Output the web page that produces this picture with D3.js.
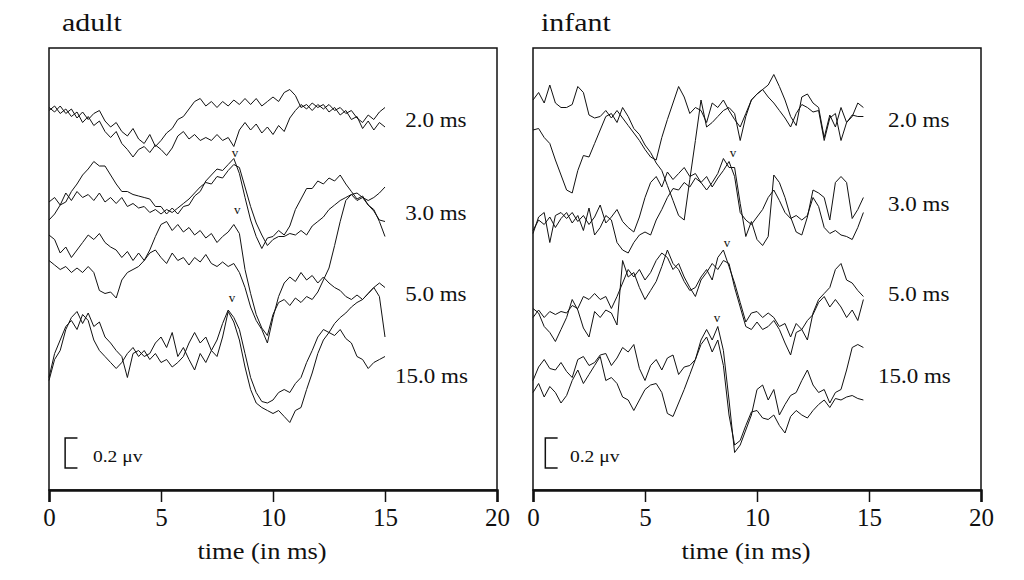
<!DOCTYPE html>
<html><head><meta charset="utf-8">
<script src="https://cdn.jsdelivr.net/npm/d3@7"></script>
<style>
body{margin:0;background:#fff}
svg{display:block}
text{font-family:"Liberation Serif","Times New Roman",serif;fill:#111}
</style>
</head><body>
<svg id="chart" width="1024" height="580"></svg>
<script>
// ---------- data (time in ms, amplitude in µV, sampled every 0.25 ms) ----------
const sampleStep = 0.25;
const xTicks = [0, 5, 10, 15, 20];
const panelTitles = ["adult", "infant"];
const xAxisLabel = "time (in ms)";
const rateLabels = ["2.0 ms", "3.0 ms", "5.0 ms", "15.0 ms"];
const scaleBarLabel = "0.2 \u03bcv";
const scaleBarValue = 0.2;

// adult
const adult2a = [2.55,2.52,2.56,2.51,2.54,2.48,2.52,2.47,2.51,2.53,2.46,2.42,2.45,2.39,2.36,2.41,2.34,2.31,2.37,2.29,2.33,2.38,2.41,2.47,2.49,2.54,2.59,2.61,2.56,2.59,2.55,2.59,2.56,2.60,2.57,2.61,2.57,2.61,2.56,2.59,2.62,2.59,2.65,2.67,2.63,2.55,2.57,2.53,2.57,2.54,2.57,2.53,2.55,2.51,2.53,2.48,2.45,2.50,2.47,2.52,2.55];
const adult2b = [2.53,2.56,2.51,2.54,2.49,2.52,2.45,2.49,2.43,2.46,2.39,2.35,2.39,2.31,2.27,2.22,2.27,2.29,2.25,2.30,2.27,2.23,2.28,2.36,2.39,2.34,2.37,2.33,2.35,2.33,2.37,2.33,2.35,2.29,2.40,2.45,2.40,2.44,2.38,2.42,2.37,2.43,2.39,2.48,2.53,2.57,2.54,2.58,2.55,2.57,2.52,2.55,2.50,2.53,2.47,2.49,2.41,2.46,2.40,2.45,2.42];
const adult3a = [1.80,1.84,1.90,1.92,1.99,2.04,2.10,2.14,2.19,2.16,2.16,2.10,2.04,1.99,1.99,1.97,1.96,1.95,1.94,1.89,1.89,1.84,1.88,1.84,1.89,1.90,1.96,1.99,2.06,2.10,2.14,2.13,2.17,2.21,2.11,1.95,1.80,1.69,1.61,1.68,1.69,1.73,1.70,1.76,1.87,1.94,2.01,2.01,2.06,2.04,2.08,2.06,2.10,2.04,1.99,1.94,1.96,1.90,1.86,1.80,1.79];
const adult3b = [1.92,1.95,1.90,1.98,1.93,1.99,1.95,1.97,1.93,1.98,1.92,1.95,1.91,1.95,1.89,1.91,1.88,1.89,1.85,1.87,1.84,1.87,1.85,1.88,1.91,1.94,1.98,2.02,2.05,2.04,2.09,2.08,2.13,2.17,2.15,2.02,1.89,1.78,1.70,1.63,1.67,1.69,1.69,1.71,1.70,1.73,1.70,1.76,1.79,1.82,1.87,1.90,1.93,1.95,1.97,1.98,1.95,1.93,1.95,1.98,2.02];
const adult5a = [1.70,1.67,1.58,1.62,1.55,1.60,1.65,1.70,1.67,1.71,1.65,1.62,1.60,1.55,1.59,1.53,1.58,1.53,1.60,1.69,1.77,1.79,1.73,1.77,1.72,1.75,1.70,1.73,1.68,1.71,1.65,1.69,1.72,1.77,1.71,1.47,1.31,1.17,1.08,1.03,1.17,1.25,1.27,1.23,1.28,1.25,1.29,1.27,1.32,1.40,1.48,1.63,1.79,1.93,1.97,1.93,1.95,1.90,1.87,1.79,1.69];
const adult5b = [1.53,1.50,1.47,1.49,1.45,1.48,1.45,1.49,1.45,1.33,1.31,1.32,1.28,1.40,1.45,1.47,1.49,1.53,1.58,1.60,1.55,1.51,1.58,1.53,1.55,1.50,1.55,1.52,1.57,1.51,1.49,1.52,1.49,1.51,1.45,1.35,1.22,1.13,1.07,0.98,1.15,1.29,1.38,1.42,1.39,1.45,1.40,1.43,1.38,1.42,1.38,1.35,1.33,1.29,1.27,1.30,1.27,1.31,1.35,1.38,1.35];
const adult15a = [0.73,0.87,0.93,1.07,1.15,1.19,1.11,1.18,1.09,1.12,1.02,0.98,0.93,0.89,0.75,0.91,0.93,0.89,0.91,0.98,1.02,0.95,1.05,0.89,0.95,0.87,0.80,0.91,0.85,0.93,0.89,1.02,1.19,1.12,1.00,0.82,0.67,0.58,0.55,0.53,0.51,0.53,0.49,0.45,0.53,0.55,0.67,0.78,0.91,1.00,1.05,1.03,1.07,1.01,0.98,0.89,0.87,0.81,0.85,0.87,0.89];
const adult15b = [0.75,0.91,1.00,1.09,1.13,1.07,1.17,1.13,1.00,0.93,0.89,0.85,0.81,0.85,0.91,0.95,0.89,0.93,0.87,0.91,0.85,0.87,0.82,0.85,0.89,0.98,1.05,0.98,1.02,0.93,1.00,1.11,1.20,1.15,1.07,0.91,0.75,0.65,0.59,0.58,0.60,0.65,0.67,0.65,0.71,0.75,0.85,0.93,1.02,1.07,1.05,1.11,1.15,1.18,1.22,1.25,1.27,1.31,1.35,1.29,1.02];

// infant
const infant2a = [2.60,2.65,2.58,2.70,2.58,2.55,2.55,2.57,2.69,2.65,2.50,2.48,2.49,2.53,2.48,2.53,2.48,2.43,2.38,2.33,2.27,2.22,2.20,2.35,2.47,2.58,2.69,2.62,2.51,2.55,2.53,2.45,2.58,2.55,2.60,2.53,2.47,2.42,2.51,2.60,2.64,2.67,2.70,2.77,2.69,2.60,2.49,2.43,2.62,2.64,2.58,2.55,2.35,2.50,2.42,2.55,2.45,2.49,2.58,2.55];
const infant2b = [2.40,2.41,2.35,2.31,2.20,2.10,2.00,1.98,2.13,2.23,2.22,2.31,2.40,2.49,2.51,2.45,2.55,2.49,2.41,2.37,2.30,2.25,2.18,2.13,2.03,1.93,1.83,1.80,2.07,2.33,2.60,2.42,2.45,2.49,2.53,2.55,2.51,2.33,2.49,2.60,2.64,2.67,2.62,2.58,2.53,2.48,2.42,2.51,2.57,2.55,2.52,2.53,2.33,2.48,2.51,2.33,2.45,2.50,2.49,2.49];
const infant3a = [1.71,1.82,1.85,1.65,1.83,1.85,1.81,1.85,1.79,1.83,1.77,1.82,1.90,1.78,1.82,1.87,1.79,1.75,1.72,1.82,1.95,2.05,2.09,2.02,2.12,2.07,2.11,2.15,2.09,2.11,2.05,2.00,2.05,2.11,2.21,2.15,2.15,1.91,1.69,1.79,1.67,1.63,1.69,2.10,2.05,1.95,1.82,1.72,1.70,1.82,2.00,1.98,1.95,1.80,2.05,2.09,2.05,1.81,1.87,1.95];
const infant3b = [1.73,1.80,1.77,1.82,1.75,1.81,1.85,1.78,1.83,1.73,1.88,1.70,1.75,1.83,1.80,1.65,1.60,1.58,1.65,1.70,1.72,1.70,1.80,1.87,1.95,2.01,2.00,2.05,2.02,2.08,2.05,2.09,2.02,2.08,2.13,2.19,2.09,1.85,1.80,1.77,1.82,1.87,1.95,2.00,1.93,1.85,1.81,1.83,1.80,1.83,1.95,1.89,1.75,1.71,1.73,1.70,1.69,1.67,1.75,1.85];
const infant5a = [1.21,1.18,1.09,1.05,0.99,1.07,1.15,1.27,1.20,1.08,1.02,1.19,1.15,1.20,1.18,1.10,1.53,1.42,1.45,1.35,1.27,1.33,1.39,1.49,1.60,1.51,1.47,1.39,1.33,1.35,1.42,1.47,1.40,1.55,1.60,1.49,1.38,1.25,1.12,1.18,1.19,1.15,1.18,1.15,1.09,1.11,1.02,1.11,1.07,1.13,1.17,1.25,1.29,1.22,1.27,1.22,1.15,1.20,1.13,1.27];
const infant5b = [1.15,1.20,1.15,1.19,1.17,1.19,1.18,1.23,1.21,1.29,1.27,1.31,1.27,1.29,1.21,1.29,1.38,1.47,1.42,1.47,1.40,1.45,1.53,1.58,1.55,1.47,1.51,1.42,1.35,1.29,1.40,1.45,1.51,1.47,1.53,1.51,1.35,1.22,1.09,1.07,1.12,1.07,1.09,1.13,1.07,0.98,0.90,1.05,1.07,1.00,1.18,1.27,1.31,1.35,1.47,1.51,1.40,1.38,1.33,1.29];
const infant15a = [0.73,0.82,0.87,0.81,0.80,0.85,0.79,0.75,0.87,0.89,0.83,0.85,0.90,0.91,0.83,0.88,0.95,0.92,0.97,0.81,0.73,0.83,0.87,0.80,0.88,0.90,0.77,0.82,0.83,0.87,1.00,1.07,1.00,1.09,0.93,0.60,0.25,0.30,0.40,0.50,0.67,0.70,0.60,0.67,0.50,0.57,0.63,0.65,0.73,0.80,0.70,0.65,0.67,0.58,0.65,0.67,0.80,0.95,0.97,0.95];
const infant15b = [0.65,0.71,0.62,0.69,0.65,0.58,0.63,0.73,0.80,0.71,0.77,0.83,0.89,0.73,0.75,0.71,0.62,0.60,0.53,0.60,0.67,0.70,0.71,0.65,0.51,0.49,0.58,0.67,0.77,0.87,0.97,1.02,0.92,1.00,0.83,0.50,0.30,0.33,0.43,0.52,0.53,0.48,0.47,0.50,0.43,0.38,0.49,0.53,0.50,0.48,0.53,0.57,0.60,0.55,0.61,0.60,0.62,0.63,0.61,0.60];

// label anchors (time, µV)
const adultLabelPos = [[15.9,2.47],[15.9,1.85],[15.9,1.31],[15.45,0.76]];
const infantLabelPos = [[15.85,2.47],[15.85,1.91],[15.85,1.31],[15.4,0.76]];
// wave V markers (time, µV)
const adultWaveV = [[8.3,2.25],[8.4,1.87],[8.17,1.28]];
const infantWaveV = [[8.93,2.25],[8.66,1.65],[8.21,1.15]];
// scale-bar anchor (time, µV of bottom)
const adultBar = [0.72, 0.147];
const infantBar = [0.55, 0.147];

// ---------- drawing ----------
const svg = d3.select("#chart");
const yTop = 48, yBottom = 490;
const pxPerUv = 150;
const y = d3.scaleLinear().domain([0, (yBottom - yTop) / pxPerUv]).range([yBottom, yTop]);
const hStretch = 1.15;

const panels = [
  {title: panelTitles[0], x0: 49, x1: 497, titleX: 62,
   traces: [adult2a, adult2b, adult3a, adult3b, adult5a, adult5b, adult15a, adult15b],
   labelPos: adultLabelPos, waveV: adultWaveV, bar: adultBar, barText: 1.96},
  {title: panelTitles[1], x0: 533, x1: 981, titleX: 541,
   traces: [infant2a, infant2b, infant3a, infant3b, infant5a, infant5b, infant15a, infant15b],
   labelPos: infantLabelPos, waveV: infantWaveV, bar: infantBar, barText: 1.65}
];

function stretchedText(g, txt, px, py, size, anchor) {
  return g.append("text")
    .attr("transform", `translate(${px},${py}) scale(${hStretch},1)`)
    .attr("text-anchor", anchor || "start")
    .attr("font-size", size)
    .text(txt);
}

panels.forEach(p => {
  const x = d3.scaleLinear().domain([0, 20]).range([p.x0, p.x1]);
  const g = svg.append("g");

  // frame
  g.append("rect").attr("x", p.x0).attr("y", yTop)
    .attr("width", p.x1 - p.x0).attr("height", yBottom - yTop)
    .attr("fill", "none").attr("stroke", "#111").attr("stroke-width", 1.5);

  // bottom axis
  const axis = d3.axisBottom(x).tickValues(xTicks).tickSize(12).tickPadding(6).tickFormat(d3.format("d"));
  const ag = g.append("g").attr("transform", `translate(0,${yBottom})`).call(axis);
  ag.select(".domain").attr("stroke", "#111").attr("stroke-width", 2.5);
  ag.selectAll(".tick line").attr("stroke", "#111").attr("stroke-width", 1.5);
  ag.selectAll(".tick text").attr("font-size", 25).attr("fill", "#111")
    .attr("font-family", '"Liberation Serif","Times New Roman",serif').attr("dy", "0.72em");

  // title
  stretchedText(g, p.title, p.titleX, 31, 26);
  // x axis label
  stretchedText(g, xAxisLabel, (p.x0 + p.x1) / 2 - 11, 559, 23, "middle");

  // traces
  const line = d3.line().x((d, i) => x(i * sampleStep)).y(d => y(d));
  g.selectAll("path.trace").data(p.traces).enter().append("path")
    .attr("class", "trace").attr("d", line)
    .attr("fill", "none").attr("stroke", "#111").attr("stroke-width", 1)
    .attr("stroke-linejoin", "round");

  // rate labels
  p.labelPos.forEach((lp, i) => {
    stretchedText(g, rateLabels[i], x(lp[0]), y(lp[1]) + 7, 20);
  });

  // wave V markers
  p.waveV.forEach(v => {
    g.append("text").attr("x", x(v[0])).attr("y", y(v[1]) + 4)
      .attr("text-anchor", "middle").attr("font-size", 13).text("v");
  });

  // scale bar
  const bx = x(p.bar[0]), by0 = y(p.bar[1]), by1 = y(p.bar[1] + scaleBarValue);
  const tick = x(p.bar[0] + 0.55) - bx;
  g.append("path")
    .attr("d", `M${bx + tick},${by1}H${bx}V${by0}H${bx + tick}`)
    .attr("fill", "none").attr("stroke", "#111").attr("stroke-width", 1.5);
  stretchedText(g, scaleBarLabel, x(p.barText), by0 - 6, 17);
});
</script>
</body></html>
